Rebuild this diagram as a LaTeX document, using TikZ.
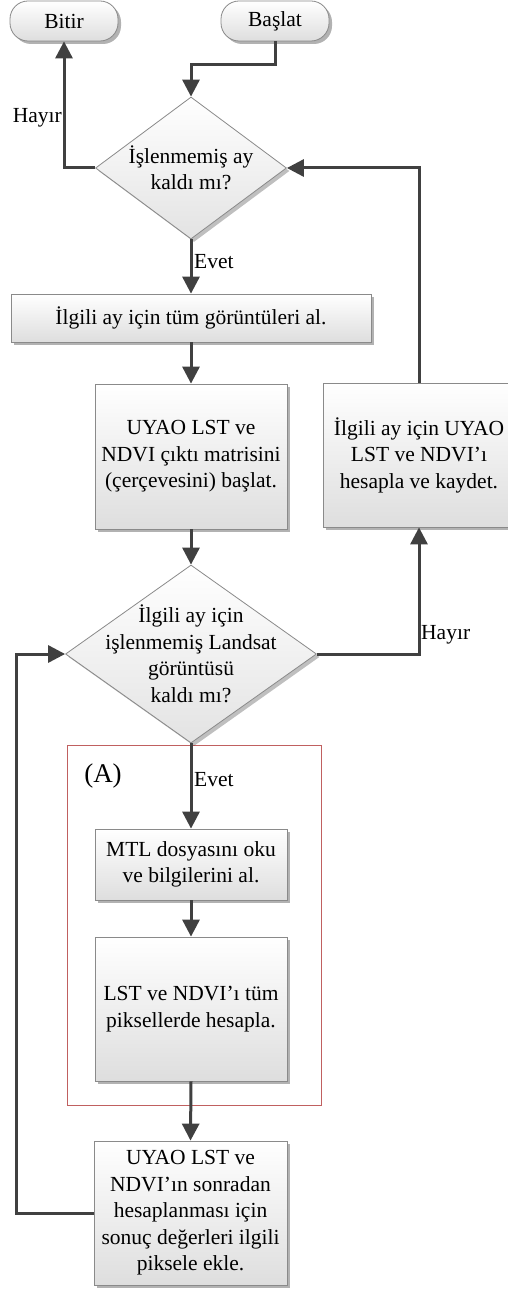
\documentclass[tikz,border=0pt]{standalone}
\usepackage{fontspec}
\setmainfont{Liberation Serif}
\usetikzlibrary{shapes.geometric,shadows,arrows.meta}
\definecolor{arrcol}{HTML}{404040}
\definecolor{bordcol}{HTML}{8A8A8A}
\definecolor{grpred}{HTML}{C06060}
\begin{document}
\begin{tikzpicture}[x=1pt,y=-1pt,
  txt/.style={font=\fontsize{21.5}{26.5}\selectfont, align=center, inner sep=0pt},
  shade/.style={top color=white, bottom color=black!13,
    drop shadow={shadow xshift=3pt,shadow yshift=-3pt,opacity=0.3,fill=black}},
  procbox/.style={txt, rectangle, draw=bordcol, line width=0.8pt, shade},
  termbox/.style={txt, rectangle, rounded corners=18pt, draw=bordcol, line width=0.8pt, shade},
  decision/.style={diamond, draw=bordcol, line width=0.8pt, inner sep=0pt,
    top color=white, bottom color=black!11,
    drop shadow={shadow xshift=3pt,shadow yshift=-3pt,opacity=0.25,fill=black}},
  grpbox/.style={rectangle, draw=grpred, line width=0.9pt, inner sep=0pt},
  arr/.style={draw=arrcol, line width=3pt, -{Triangle[length=17pt,width=17pt]}},
  lbl/.style={font=\fontsize{21.5}{26.5}\selectfont, inner sep=0pt}
]
\fill[white] (0,0) rectangle (507,1289);
\useasboundingbox (0,0) rectangle (507,1289);

% group frame (A)
\node[grpbox, minimum width=254pt, minimum height=360pt] (grp) at (194,925) {};
\node[lbl, font=\fontsize{27}{30}\selectfont] (grplbl) at (103,776) {(A)};

% terminals
\node[termbox, minimum width=108pt, minimum height=40pt] (end) at (64,21) {Bitir};
\node[termbox, minimum width=108pt, minimum height=40pt] (start) at (275,21) {Başlat};

% decision 1
\node[decision, minimum width=191pt, minimum height=142pt] (d1) at (191,168) {};
\node[txt] (d1t) at (d1.center) {İşlenmemiş ay\\kaldı mı?};

% process boxes
\node[procbox, minimum width=360pt, minimum height=48pt] (get) at (191,318) {İlgili ay için tüm görüntüleri al.};
\node[procbox, minimum width=192pt, minimum height=145pt] (init) at (191,456.5) {UYAO LST ve\\NDVI çıktı matrisini\\(çerçevesini) başlat.};
\node[procbox, minimum width=192pt, minimum height=144pt] (calc) at (419,455) {İlgili ay için UYAO\\LST ve NDVI’ı\\hesapla ve kaydet.};

% decision 2
\node[decision, minimum width=251pt, minimum height=178pt] (d2) at (191,654) {};
\node[txt] (d2t) at (d2.center) {İlgili ay için\\işlenmemiş Landsat\\görüntüsü\\kaldı mı?};

\node[procbox, minimum width=192pt, minimum height=71pt] (mtl) at (191,864.5) {MTL dosyasını oku\\ve bilgilerini al.};
\node[procbox, minimum width=192pt, minimum height=144pt] (lst) at (191,1009) {LST ve NDVI’ı tüm\\piksellerde hesapla.};
\node[procbox, minimum width=193pt, minimum height=144pt] (add) at (190.5,1213) {UYAO LST ve\\NDVI’ın sonradan\\hesaplanması için\\sonuç değerleri ilgili\\piksele ekle.};

% connectors
\coordinate (b1) at (191,65);
\draw[arr] (start.south) |- (b1) -- (d1.north);
\draw[arr] (d1.west) -| (end.south);
\draw[arr] (d1.south) -- (get.north);
\draw[arr] (get.south) -- (init.north);
\draw[arr] (init.south) -- (d2.north);
\draw[arr] (d2.east) -| (calc.south);
\draw[arr] (calc.north) |- (d1.east);
\draw[arr] (d2.south) -- (mtl.north);
\draw[arr] (mtl.south) -- (lst.north);
\draw[arr] (lst.south) -- (add.north);
\coordinate (lp) at (16,654);
\draw[arr] (add.west) -| (lp) -- (d2.west);

% labels
\node[lbl, anchor=east] (h1) at (62,118) {Hayır};
\node[lbl, anchor=west] (e1) at (194,262) {Evet};
\node[lbl, anchor=west] (h2) at (421,635) {Hayır};
\node[lbl, anchor=west] (e2) at (194,780) {Evet};
\end{tikzpicture}
\end{document}
